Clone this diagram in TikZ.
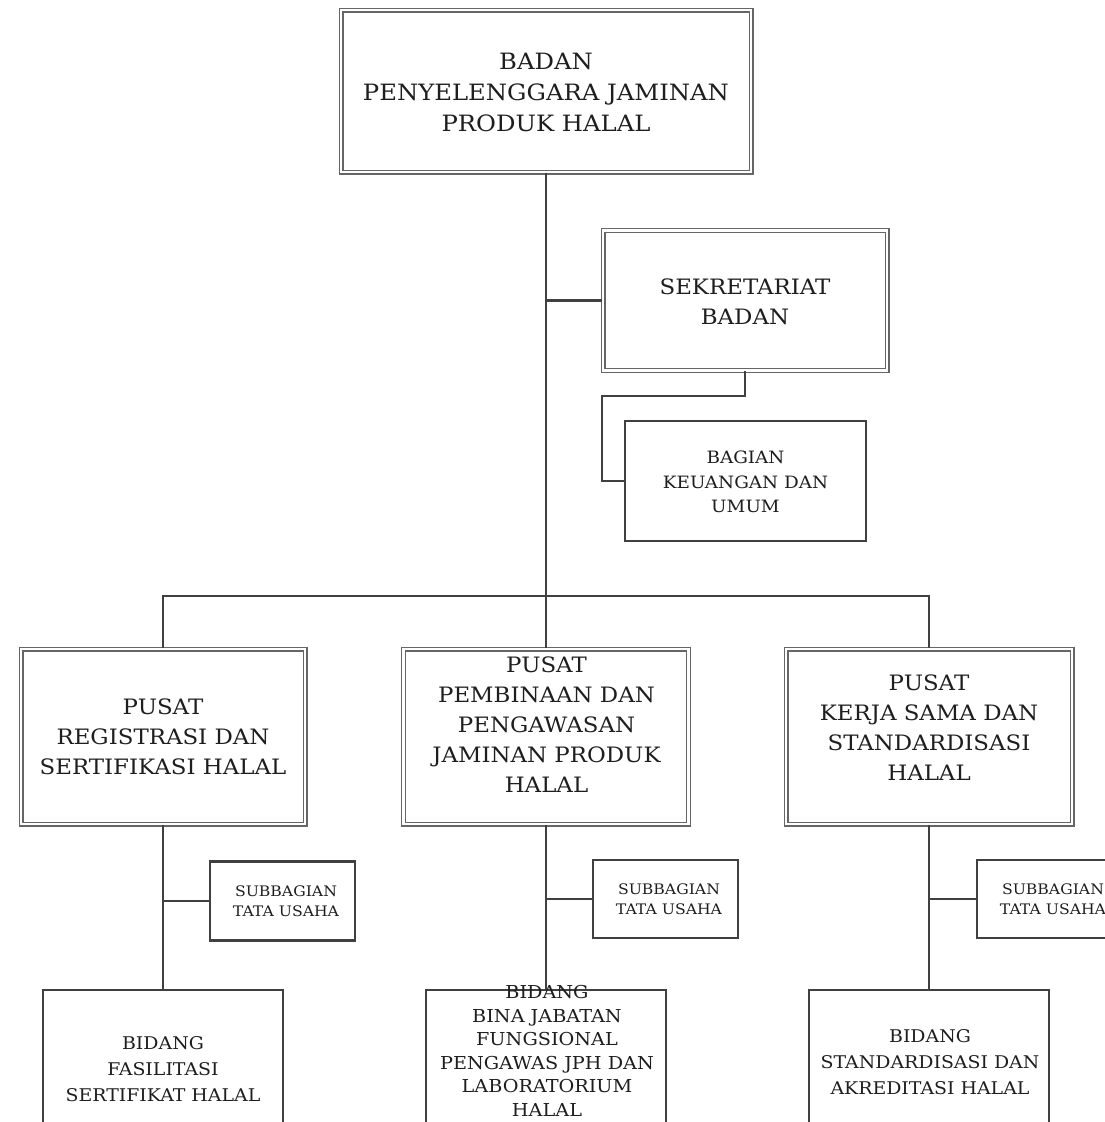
\documentclass[tikz,border=0pt]{standalone}
\usepackage{fontspec}
\setmainfont[FakeStretch=1.08]{DejaVu Serif}
\definecolor{linec}{HTML}{404040}
\definecolor{dblc}{HTML}{666666}
\definecolor{txtc}{HTML}{1E1E1E}
\tikzset{
  dbox/.style={draw=dblc, double=white, double distance=2.6pt, line width=1.2pt, inner sep=0pt},
  sbox/.style={draw=linec, line width=2.2pt, inner sep=0pt},
  conn/.style={draw=linec, line width=2.2pt},
  toptxt/.style={text=txtc, align=center, font=\fontsize{22.5}{31}\selectfont, inner sep=0pt},
  bigtxt/.style={text=txtc, align=center, font=\fontsize{21.2}{30}\selectfont, inner sep=0pt},
  midtxt/.style={text=txtc, align=center, font=\fontsize{17}{24.5}\selectfont, inner sep=0pt},
  smalltxt/.style={text=txtc, align=center, font=\fontsize{14.5}{20}\selectfont, inner sep=0pt},
  bidtxt/.style={text=txtc, align=center, font=\fontsize{17.5}{26}\selectfont, inner sep=0pt},
  bid2txt/.style={text=txtc, align=center, font=\fontsize{17.8}{23.5}\selectfont, inner sep=0pt},
}
\begin{document}
\begin{tikzpicture}[x=1pt,y=-1pt]
\useasboundingbox (0,0) rectangle (1105,1122);
\clip (0,0) rectangle (1105,1122);
\fill[white] (0,0) rectangle (1105,1122);
% boxes
\node[dbox, minimum width=410pt, minimum height=162pt] (top) at (546,91) {};
\node[toptxt] (topt) at (546,92) {BADAN\\PENYELENGGARA JAMINAN\\PRODUK HALAL};
\node[dbox, minimum width=284pt, minimum height=140pt] (sek) at (745,300.5) {};
\node[bigtxt] (sekt) at (745,302) {SEKRETARIAT\\BADAN};
\node[sbox, minimum width=241pt, minimum height=120pt] (bag) at (745.5,481) {};
\node[midtxt] (bagt) at (745.5,482) {BAGIAN\\KEUANGAN DAN\\UMUM};
\node[dbox, minimum width=284pt, minimum height=175pt] (p1) at (163,736.5) {};
\node[bigtxt] (p1t) at (163,737) {PUSAT\\REGISTRASI DAN\\SERTIFIKASI HALAL};
\node[dbox, minimum width=285pt, minimum height=175pt] (p2) at (546,736.5) {};
\node[bigtxt] (p2t) at (546.5,725) {PUSAT\\PEMBINAAN DAN\\PENGAWASAN\\JAMINAN PRODUK\\HALAL};
\node[dbox, minimum width=286pt, minimum height=175pt] (p3) at (929,736.5) {};
\node[bigtxt] (p3t) at (929,727.5) {PUSAT\\KERJA SAMA DAN\\STANDARDISASI\\HALAL};
\node[sbox, minimum width=145pt, minimum height=79pt] (s1) at (282.5,901) {};
\node[smalltxt] (s1t) at (286,901) {SUBBAGIAN\\TATA USAHA};
\node[sbox, minimum width=145pt, minimum height=78pt] (s2) at (665.5,899) {};
\node[smalltxt] (s2t) at (669,899) {SUBBAGIAN\\TATA USAHA};
\node[sbox, minimum width=145pt, minimum height=78pt] (s3) at (1049.5,899) {};
\node[smalltxt] (s3t) at (1053,899) {SUBBAGIAN\\TATA USAHA};
\node[sbox, minimum width=240pt, minimum height=156pt] (b1) at (163,1068) {};
\node[bidtxt] (b1t) at (163,1069) {BIDANG\\FASILITASI\\SERTIFIKAT HALAL};
\node[sbox, minimum width=240pt, minimum height=156pt] (b2) at (546,1068) {};
\node[bid2txt] (b2t) at (547,1051) {BIDANG\\BINA JABATAN\\FUNGSIONAL\\PENGAWAS JPH DAN\\LABORATORIUM\\HALAL};
\node[sbox, minimum width=240pt, minimum height=156pt] (b3) at (929,1068) {};
\node[bidtxt] (b3t) at (930,1062) {BIDANG\\STANDARDISASI DAN\\AKREDITASI HALAL};
% connectors
\coordinate (bar) at (546,596);
\coordinate (knee) at (602,396);
\draw[conn] (top.south) -- (p2.north);
\draw[conn] (p1.north) -- (p1.north |- bar) -- (p3.north |- bar) -- (p3.north);
\draw[conn] (top.south |- sek.west) -- (sek.west);
\draw[conn] (sek.south) |- (knee) |- (bag.west);
\draw[conn] (p1.south) -- (b1.north);
\draw[conn] (p2.south) -- (b2.north);
\draw[conn] (p3.south) -- (b3.north);
\draw[conn] (p1.south |- s1.west) -- (s1.west);
\draw[conn] (p2.south |- s2.west) -- (s2.west);
\draw[conn] (p3.south |- s3.west) -- (s3.west);
\end{tikzpicture}
\end{document}
